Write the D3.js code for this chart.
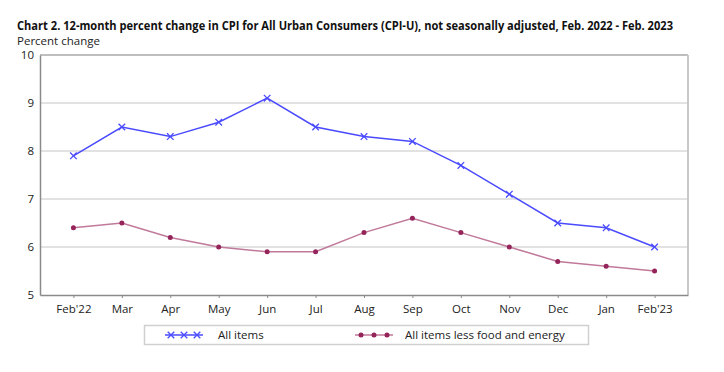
<!DOCTYPE html>
<html>
<head>
<meta charset="utf-8">
<script src="https://cdn.jsdelivr.net/npm/d3@7"></script>
<style>
  body { margin: 0; background: #fff; }
  svg { font-family: "Open Sans", "Noto Sans", sans-serif; }
</style>
</head>
<body>
<div id="chart"></div>
<script>
// dati
const months    = ["Feb'22", 'Mar', 'Apr', 'May', 'Jun', 'Jul', 'Aug', 'Sep', 'Oct', 'Nov', 'Dec', 'Jan', "Feb'23"];
const allItems  = [7.9, 8.5, 8.3, 8.6, 9.1, 8.5, 8.3, 8.2, 7.7, 7.1, 6.5, 6.4, 6.0];
const coreItems = [6.4, 6.5, 6.2, 6.0, 5.9, 5.9, 6.3, 6.6, 6.3, 6.0, 5.7, 5.6, 5.5];
const yTicks    = [5, 6, 7, 8, 9, 10];
const seriesNames = ['All items', 'All items less food and energy'];

const W = 724, H = 372;
const plot = { left: 40, right: 688, top: 55, bottom: 295 };
const BLUE = '#4a4aff';
const PURPLE_LINE = '#c0799a';
const PURPLE_DOT = '#94245a';

const svg = d3.select('#chart').append('svg')
  .attr('width', W)
  .attr('height', H);

// titolo (compresso alla larghezza del riferimento)
svg.append('text')
  .attr('x', 17).attr('y', 30)
  .attr('font-size', 11.5).attr('font-weight', 'bold')
  .attr('fill', '#111')
  .attr('textLength', 656)
  .attr('lengthAdjust', 'spacingAndGlyphs')
  .text('Chart 2. 12-month percent change in CPI for All Urban Consumers (CPI-U), not seasonally adjusted, Feb. 2022 - Feb. 2023');

svg.append('text')
  .attr('x', 17).attr('y', 45)
  .attr('font-size', 11.5)
  .attr('fill', '#222')
  .text('Percent change');

const x = d3.scalePoint()
  .domain(months)
  .range([plot.left, plot.right])
  .padding(0.69);

const y = d3.scaleLinear()
  .domain([5, 10])
  .range([plot.bottom, plot.top]);

// griglia
svg.append('g')
  .selectAll('line')
  .data(yTicks.filter(t => t > 5 && t < 10))
  .enter()
  .append('line')
  .attr('x1', plot.left).attr('x2', plot.right)
  .attr('y1', d => y(d)).attr('y2', d => y(d))
  .attr('stroke', '#d9d9d9')
  .attr('stroke-width', 1.5);

// cornice
svg.append('line')
  .attr('x1', plot.left).attr('x2', plot.right)
  .attr('y1', plot.top).attr('y2', plot.top)
  .attr('stroke', '#a8a8a8').attr('stroke-width', 1.5);
svg.append('line')
  .attr('x1', plot.right).attr('x2', plot.right)
  .attr('y1', plot.top).attr('y2', plot.bottom)
  .attr('stroke', '#c8c8c8').attr('stroke-width', 2);

// asse y
const yAxis = svg.append('g')
  .attr('transform', `translate(${plot.left},0)`)
  .call(d3.axisLeft(y).tickValues(yTicks).tickSize(0).tickPadding(6).tickFormat(d3.format('d')));
yAxis.select('.domain').attr('stroke', '#8a8a8a').attr('stroke-width', 1.5);
yAxis.selectAll('text').attr('font-size', 11.5).attr('fill', '#222')
  .attr('font-family', '"Open Sans", "Noto Sans", sans-serif');

// asse x
const xAxis = svg.append('g')
  .attr('transform', `translate(0,${plot.bottom})`)
  .call(d3.axisBottom(x).tickSize(3).tickPadding(7).tickSizeOuter(0));
xAxis.select('.domain').attr('stroke', '#8a8a8a').attr('stroke-width', 1.5);
xAxis.selectAll('.tick line').attr('stroke', '#8a8a8a');
xAxis.selectAll('text').attr('font-size', 11.5).attr('fill', '#222')
  .attr('font-family', '"Open Sans", "Noto Sans", sans-serif');

const line = d3.line()
  .x((d, i) => x(months[i]))
  .y(d => y(d));

// serie core
svg.append('path')
  .datum(coreItems)
  .attr('d', line)
  .attr('fill', 'none')
  .attr('stroke', PURPLE_LINE)
  .attr('stroke-width', 1.5);
svg.append('g')
  .selectAll('circle')
  .data(coreItems)
  .enter()
  .append('circle')
  .attr('cx', (d, i) => x(months[i]))
  .attr('cy', d => y(d))
  .attr('r', 2.5)
  .attr('fill', PURPLE_DOT);

// serie all items
svg.append('path')
  .datum(allItems)
  .attr('d', line)
  .attr('fill', 'none')
  .attr('stroke', BLUE)
  .attr('stroke-width', 1.5);

const cross = d3.symbol().type(d3.symbolX).size(30);
svg.append('g')
  .selectAll('path')
  .data(allItems)
  .enter()
  .append('path')
  .attr('transform', (d, i) => `translate(${x(months[i])},${y(d)})`)
  .attr('d', cross)
  .attr('fill', 'none')
  .attr('stroke', BLUE)
  .attr('stroke-width', 1.3);

// legenda
const leg = svg.append('g');
leg.append('rect')
  .attr('x', 144.5).attr('y', 325.5)
  .attr('width', 444).attr('height', 19)
  .attr('fill', '#fff')
  .attr('stroke', '#d0d0d0')
  .attr('stroke-width', 1.5);

const legItems = [
  { name: seriesNames[0], x0: 165, tx: 218, kind: 'x' },
  { name: seriesNames[1], x0: 355, tx: 405, kind: 'dot' }
];
const ly = 335;
legItems.forEach(it => {
  const xs = [it.x0 + 6, it.x0 + 19, it.x0 + 32];
  leg.append('line')
    .attr('x1', it.x0).attr('x2', it.x0 + 38)
    .attr('y1', ly).attr('y2', ly)
    .attr('stroke', it.kind === 'x' ? BLUE : PURPLE_LINE)
    .attr('stroke-width', 1.5);
  xs.forEach(cx => {
    if (it.kind === 'x') {
      leg.append('path')
        .attr('transform', `translate(${cx},${ly})`)
        .attr('d', cross)
        .attr('fill', 'none')
        .attr('stroke', BLUE)
        .attr('stroke-width', 1.3);
    } else {
      leg.append('circle')
        .attr('cx', cx).attr('cy', ly).attr('r', 2.5)
        .attr('fill', PURPLE_DOT);
    }
  });
  leg.append('text')
    .attr('x', it.tx).attr('y', ly + 4)
    .attr('font-size', 11.5).attr('fill', '#222')
    .text(it.name);
});
</script>
</body>
</html>
